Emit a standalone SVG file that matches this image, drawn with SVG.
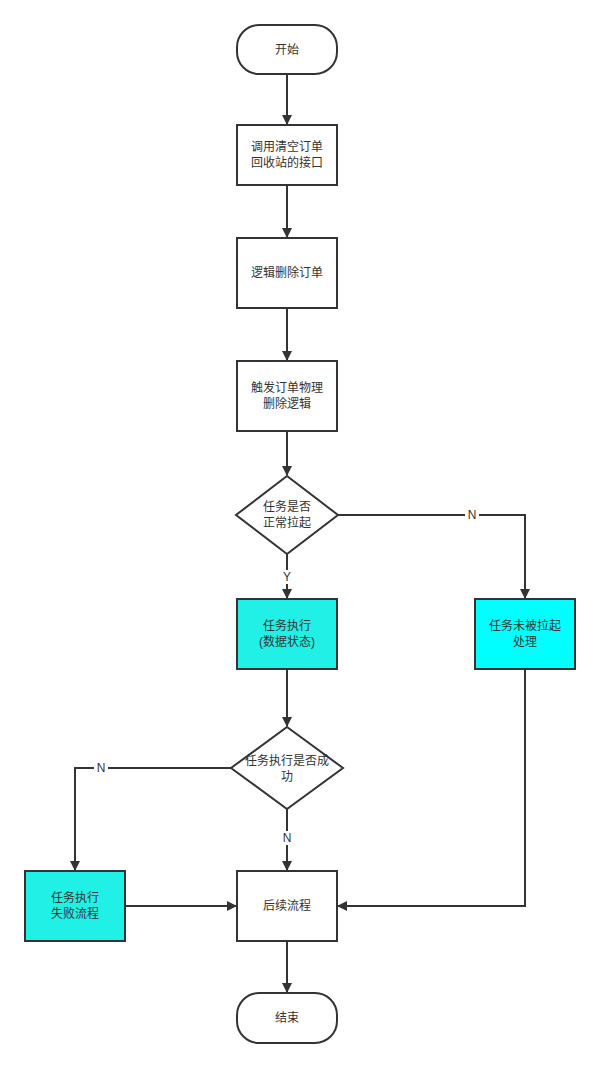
<svg xmlns="http://www.w3.org/2000/svg" width="600" height="1068" viewBox="0 0 600 1068">
<defs>
<marker id="arr" viewBox="0 0 10 10" refX="9" refY="5" markerWidth="5" markerHeight="5" orient="auto" markerUnits="strokeWidth">
<path d="M0,0 L10,5 L0,10 z" fill="#333333"/>
</marker>
<style>
.shape{fill:#ffffff;stroke:#333333;stroke-width:2}
.cyan1{fill:#21f0e6}
.cyan2{fill:#00ffff}
.edge{fill:none;stroke:#333333;stroke-width:2;marker-end:url(#arr)}
text{font-family:"Liberation Sans","Noto Sans CJK SC",sans-serif;font-size:12px;fill:#333333;text-anchor:middle;dominant-baseline:central}
.lbl{fill:#ffffff;stroke:none}
</style>
</defs>
<rect width="600" height="1068" fill="#ffffff"/>
<g id="connectors">
<path class="edge" d="M287,74 L287,124"/>
<path class="edge" d="M287,185 L287,237"/>
<path class="edge" d="M287,308 L287,360"/>
<path class="edge" d="M287,431 L287,475"/>
<path class="edge" d="M287,554 L287,598"/>
<path class="edge" d="M338,515 L525,515 L525,598"/>
<path class="edge" d="M287,669 L287,726"/>
<path class="edge" d="M231,768 L75,768 L75,870"/>
<path class="edge" d="M287,809 L287,870"/>
<path class="edge" d="M125,906 L236,906"/>
<path class="edge" d="M525,669 L525,906 L338,906"/>
<path class="edge" d="M287,941 L287,992"/>
<rect class="lbl" x="281" y="570" width="12" height="14"/>
<text x="287" y="577">Y</text>
<rect class="lbl" x="465" y="508" width="14" height="14"/>
<text x="472" y="515">N</text>
<rect class="lbl" x="94" y="761" width="14" height="14"/>
<text x="101" y="768">N</text>
<rect class="lbl" x="280" y="831" width="14" height="14"/>
<text x="287" y="838">N</text>
</g>
<g id="start">
<rect class="shape" x="237" y="25" width="100" height="49" rx="22" ry="22"/>
<text x="287" y="50">开始</text>
</g>
<g id="n1">
<rect class="shape" x="237" y="125" width="100" height="60"/>
<text x="287" y="147">调用清空订单</text>
<text x="287" y="163">回收站的接口</text>
</g>
<g id="n2">
<rect class="shape" x="237" y="238" width="100" height="70"/>
<text x="287" y="273">逻辑删除订单</text>
</g>
<g id="n3">
<rect class="shape" x="237" y="361" width="100" height="70"/>
<text x="287" y="388">触发订单物理</text>
<text x="287" y="404">删除逻辑</text>
</g>
<g id="d1">
<polygon class="shape" points="287,476 338,515 287,554 236,515"/>
<text x="287" y="507">任务是否</text>
<text x="287" y="523">正常拉起</text>
</g>
<g id="n4">
<rect class="shape cyan1" x="237" y="599" width="100" height="70"/>
<text x="287" y="626">任务执行</text>
<text x="287" y="642">(数据状态)</text>
</g>
<g id="n5">
<rect class="shape cyan2" x="475" y="599" width="100" height="70"/>
<text x="525" y="626">任务未被拉起</text>
<text x="525" y="642">处理</text>
</g>
<g id="d2">
<polygon class="shape" points="287,727 343,768 287,809 231,768"/>
<text x="287" y="761">任务执行是否成</text>
<text x="287" y="777">功</text>
</g>
<g id="n6">
<rect class="shape cyan1" x="25" y="871" width="100" height="70"/>
<text x="75" y="898">任务执行</text>
<text x="75" y="914">失败流程</text>
</g>
<g id="n7">
<rect class="shape" x="237" y="871" width="100" height="70"/>
<text x="287" y="906">后续流程</text>
</g>
<g id="end">
<rect class="shape" x="237" y="993" width="100" height="50" rx="22" ry="22"/>
<text x="287" y="1018">结束</text>
</g>
</svg>
